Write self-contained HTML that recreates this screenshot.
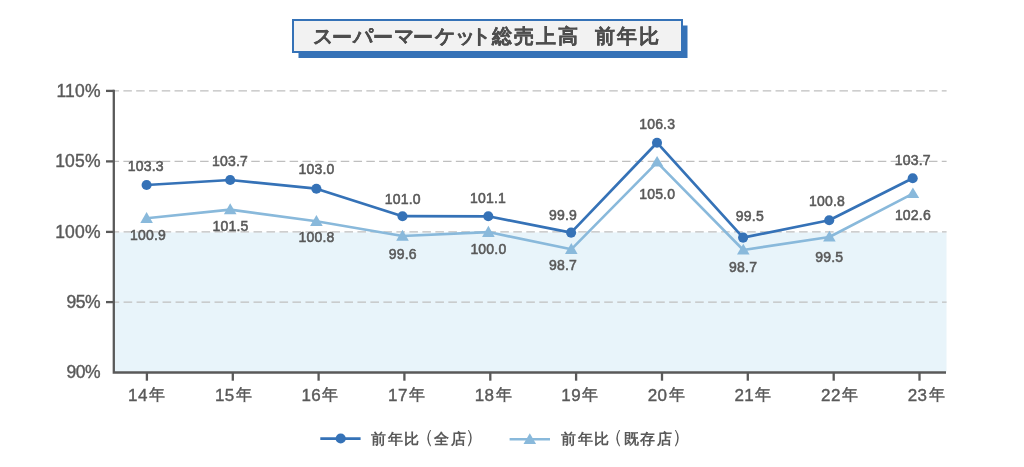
<!DOCTYPE html><html lang="ja"><head><meta charset="utf-8"><title>スーパーマーケット総売上高 前年比</title><style>html,body{margin:0;padding:0;background:#fff;width:1024px;height:467px;overflow:hidden}svg{position:absolute;left:0;top:0;will-change:transform;font-family:"Liberation Sans",sans-serif}.dl{font-size:14px;fill:#595959;stroke:#595959;stroke-width:0.55;letter-spacing:0.2px}.ax{font-size:17.5px;fill:#595959;stroke:#595959;stroke-width:0.4;letter-spacing:0.2px}.ax2{letter-spacing:-0.4px}.axx{font-size:17px;letter-spacing:0.4px}.nen{font-size:15.5px;fill:#595959;stroke:#595959;stroke-width:0.45;letter-spacing:0}.tt{font-size:20px;font-weight:bold;fill:#4D4D4D;stroke:#4D4D4D;stroke-width:0.2}.lg{font-size:15px;font-weight:bold;fill:#595959}.lp{font-size:18.5px;font-weight:normal;fill:#595959}</style></head><body>
<svg width="1024" height="467" viewBox="0 0 1024 467">
<rect x="298.5" y="25.5" width="389" height="32.5" fill="#3572B7"/>
<rect x="293" y="20" width="389" height="32" fill="#F2F2F2" stroke="#3572B7" stroke-width="2"/>
<text class="tt" x="313.12 332.00 352.62 373.00 394.43 413.20 434.68 454.62 470.80 491.85 514.27 536.25 558.35 578.5 595.05 616.60 638.55" y="42.7 44.2 42.7 44.2 42.7 44.2 42.7 42.7 42.7 42.7 42.7 42.7 42.7 42.7 42.7 42.7 42.7">スーパーマーケット総売上高　前年比</text>
<rect x="114" y="232.4" width="832.5" height="140" fill="#E8F4FA"/>
<line x1="110.6" y1="90.9" x2="946.6" y2="90.9" stroke="#BFBFBF" stroke-width="1.3" stroke-dasharray="8.5 4.287"/>
<line x1="110.6" y1="161.4" x2="946.6" y2="161.4" stroke="#BFBFBF" stroke-width="1.3" stroke-dasharray="8.5 4.287"/>
<line x1="110.6" y1="231.9" x2="946.6" y2="231.9" stroke="#BFBFBF" stroke-width="1.3" stroke-dasharray="8.6 4.39"/>
<line x1="110.6" y1="302.1" x2="946.6" y2="302.1" stroke="#BFBFBF" stroke-width="1.3" stroke-dasharray="8.6 4.39"/>
<path d="M113.8 89.65V372.5H946" fill="none" stroke="#595959" stroke-width="2.3"/>
<line x1="106" y1="90.9" x2="113.8" y2="90.9" stroke="#595959" stroke-width="2.3"/>
<line x1="106" y1="161.4" x2="113.8" y2="161.4" stroke="#595959" stroke-width="2.3"/>
<line x1="106" y1="231.9" x2="113.8" y2="231.9" stroke="#595959" stroke-width="2.3"/>
<line x1="106" y1="302.1" x2="113.8" y2="302.1" stroke="#595959" stroke-width="2.3"/>
<line x1="146.9" y1="372.5" x2="146.9" y2="380.7" stroke="#595959" stroke-width="2.3"/>
<line x1="232.8" y1="372.5" x2="232.8" y2="380.7" stroke="#595959" stroke-width="2.3"/>
<line x1="318.6" y1="372.5" x2="318.6" y2="380.7" stroke="#595959" stroke-width="2.3"/>
<line x1="404.4" y1="372.5" x2="404.4" y2="380.7" stroke="#595959" stroke-width="2.3"/>
<line x1="490.3" y1="372.5" x2="490.3" y2="380.7" stroke="#595959" stroke-width="2.3"/>
<line x1="576.1" y1="372.5" x2="576.1" y2="380.7" stroke="#595959" stroke-width="2.3"/>
<line x1="662.0" y1="372.5" x2="662.0" y2="380.7" stroke="#595959" stroke-width="2.3"/>
<line x1="747.8" y1="372.5" x2="747.8" y2="380.7" stroke="#595959" stroke-width="2.3"/>
<line x1="833.7" y1="372.5" x2="833.7" y2="380.7" stroke="#595959" stroke-width="2.3"/>
<line x1="919.5" y1="372.5" x2="919.5" y2="380.7" stroke="#595959" stroke-width="2.3"/>
<text class="ax" x="56.45" y="96.7">110%</text>
<text class="ax" x="55.20" y="167.2">105%</text>
<text class="ax" x="55.20" y="237.7">100%</text>
<text class="ax ax2" x="66.45" y="307.9">95%</text>
<text class="ax ax2" x="66.45" y="377.5">90%</text>
<text class="ax axx" x="128.10" y="400.5">14<tspan class="nen" x="149.20" y="399.8">年</tspan></text>
<text class="ax axx" x="214.94" y="400.5">15<tspan class="nen" x="235.79" y="399.8">年</tspan></text>
<text class="ax axx" x="301.53" y="400.5">16<tspan class="nen" x="322.38" y="399.8">年</tspan></text>
<text class="ax axx" x="388.12" y="400.5">17<tspan class="nen" x="408.97" y="399.8">年</tspan></text>
<text class="ax axx" x="474.71" y="400.5">18<tspan class="nen" x="495.56" y="399.8">年</tspan></text>
<text class="ax axx" x="561.30" y="400.5">19<tspan class="nen" x="582.15" y="399.8">年</tspan></text>
<text class="ax axx" x="647.64" y="400.5">20<tspan class="nen" x="668.74" y="399.8">年</tspan></text>
<text class="ax axx" x="734.48" y="400.5">21<tspan class="nen" x="755.33" y="399.8">年</tspan></text>
<text class="ax axx" x="821.07" y="400.5">22<tspan class="nen" x="841.92" y="399.8">年</tspan></text>
<text class="ax axx" x="907.66" y="400.5">23<tspan class="nen" x="928.51" y="399.8">年</tspan></text>
<polyline points="146.6,218.3 230.2,209.6 316.4,221.3 402.5,236.0 488.4,232.1 571.3,249.3 657.1,162.3 743.3,250.0 829.4,237.0 912.9,193.7" fill="none" stroke="#89B9DB" stroke-width="2.6" stroke-linejoin="round"/>
<path d="M146.6 212.0L152.9 222.9H140.3Z" fill="#89B9DB"/>
<path d="M230.2 203.3L236.5 214.3H223.9Z" fill="#89B9DB"/>
<path d="M316.4 215.0L322.7 225.9H310.1Z" fill="#89B9DB"/>
<path d="M402.5 229.7L408.8 240.8H396.2Z" fill="#89B9DB"/>
<path d="M488.4 225.8L494.7 236.9H482.1Z" fill="#89B9DB"/>
<path d="M571.3 243.0L577.6 253.9H565.0Z" fill="#89B9DB"/>
<path d="M657.1 156.0L663.4 166.6H650.8Z" fill="#89B9DB"/>
<path d="M743.3 243.7L749.6 254.6H737.0Z" fill="#89B9DB"/>
<path d="M829.4 230.7L835.7 241.6H823.1Z" fill="#89B9DB"/>
<path d="M912.9 187.4L919.2 198.0H906.6Z" fill="#89B9DB"/>
<polyline points="146.6,185.0 230.2,180.0 316.4,188.7 402.5,216.2 488.3,216.3 571.1,232.6 657.0,142.7 743.1,237.6 829.2,220.2 912.7,178.3" fill="none" stroke="#3572B7" stroke-width="2.7" stroke-linejoin="round"/>
<circle cx="146.6" cy="185.0" r="5.05" fill="#3572B7"/>
<circle cx="230.2" cy="180.0" r="5.05" fill="#3572B7"/>
<circle cx="316.4" cy="188.7" r="5.05" fill="#3572B7"/>
<circle cx="402.5" cy="216.2" r="5.05" fill="#3572B7"/>
<circle cx="488.3" cy="216.3" r="5.05" fill="#3572B7"/>
<circle cx="571.1" cy="232.6" r="5.05" fill="#3572B7"/>
<circle cx="657.0" cy="142.7" r="5.05" fill="#3572B7"/>
<circle cx="743.1" cy="237.6" r="5.05" fill="#3572B7"/>
<circle cx="829.2" cy="220.2" r="5.05" fill="#3572B7"/>
<circle cx="912.7" cy="178.3" r="5.05" fill="#3572B7"/>
<text class="dl" x="127.82" y="170.75">103.3</text>
<text class="dl" x="212.07" y="165.75">103.7</text>
<text class="dl" x="298.48" y="173.85">103.0</text>
<text class="dl" x="384.77" y="203.85">101.0</text>
<text class="dl" x="470.07" y="202.65">101.1</text>
<text class="dl" x="549.02" y="219.85">99.9</text>
<text class="dl" x="639.17" y="129.15">106.3</text>
<text class="dl" x="735.83" y="220.95">99.5</text>
<text class="dl" x="808.98" y="206.35">100.8</text>
<text class="dl" x="894.77" y="164.75">103.7</text>
<text class="dl" x="129.97" y="239.85">100.9</text>
<text class="dl" x="212.47" y="231.05">101.5</text>
<text class="dl" x="298.48" y="242.45">100.8</text>
<text class="dl" x="388.73" y="258.95">99.6</text>
<text class="dl" x="470.38" y="253.85">100.0</text>
<text class="dl" x="549.02" y="270.45">98.7</text>
<text class="dl" x="639.17" y="199.15">105.0</text>
<text class="dl" x="729.12" y="271.75">98.7</text>
<text class="dl" x="815.23" y="261.75">99.5</text>
<text class="dl" x="894.88" y="219.75">102.6</text>
<line x1="320.3" y1="438.6" x2="360.6" y2="438.6" stroke="#3572B7" stroke-width="2.7"/>
<circle cx="340.7" cy="438.5" r="5.1" fill="#3572B7"/>
<text class="lg"><tspan x="371.32" y="444.1">前</tspan><tspan x="388.48" y="444.1">年</tspan><tspan x="403.85" y="444.1">比</tspan><tspan class="lp" x="415.43" y="443.4">（</tspan><tspan x="434.32" y="444.1">全</tspan><tspan x="450.95" y="444.1">店</tspan><tspan class="lp" x="465.18" y="443.4">）</tspan></text>
<line x1="509.6" y1="439.3" x2="550" y2="439.3" stroke="#89B9DB" stroke-width="2.6"/>
<path d="M529.8 433.2L536.1 444.1H523.5Z" fill="#89B9DB"/>
<text class="lg"><tspan x="560.92" y="444.1">前</tspan><tspan x="578.38" y="444.1">年</tspan><tspan x="593.95" y="444.1">比</tspan><tspan class="lp" x="604.23" y="443.4">（</tspan><tspan x="623.75" y="444.1">既</tspan><tspan x="640.45" y="444.1">存</tspan><tspan x="656.95" y="444.1">店</tspan><tspan class="lp" x="671.88" y="443.4">）</tspan></text>
</svg></body></html>
